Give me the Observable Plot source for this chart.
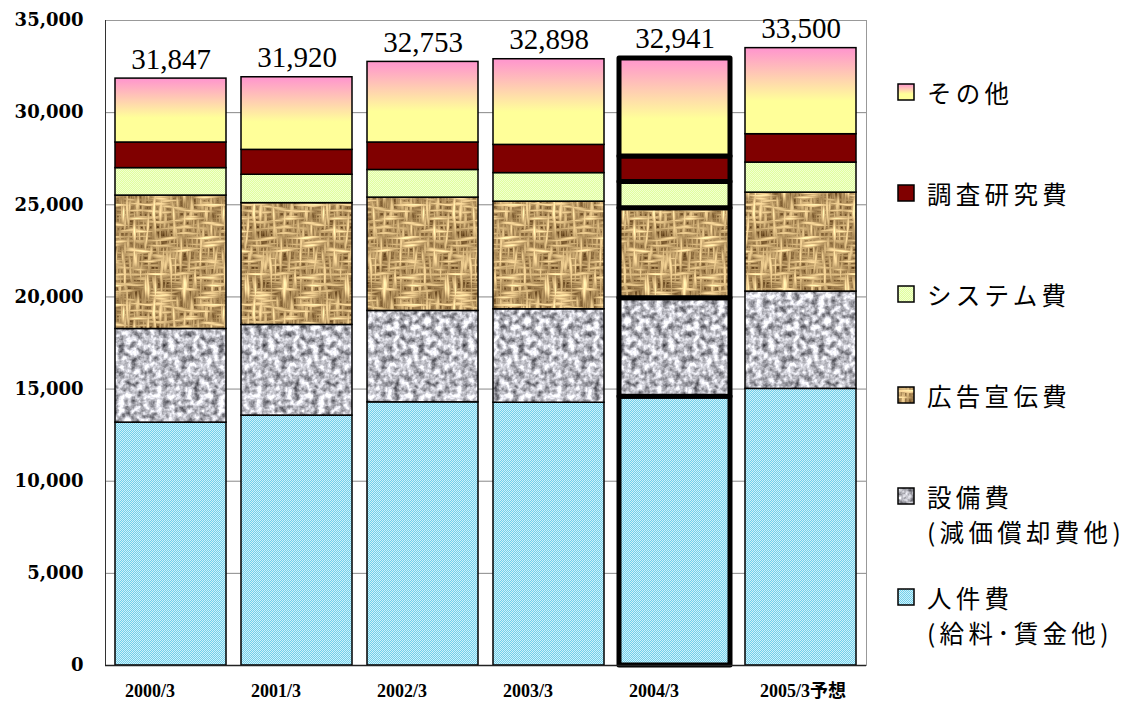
<!DOCTYPE html>
<html><head><meta charset="utf-8">
<script src="https://cdn.jsdelivr.net/npm/d3@7"></script>
<script src="https://cdn.jsdelivr.net/npm/@observablehq/plot@0.6"></script>
<style>
body{margin:0;background:#fff}
#wrap{position:relative;width:1129px;height:708px;overflow:hidden}
#chart{position:absolute;left:0;top:0}
#legend{position:absolute;left:880px;top:0;width:249px;height:708px;font-family:"Noto Sans CJK JP",sans-serif;font-size:24.5px;letter-spacing:4.3px;color:#000}
.item{position:absolute;left:17px}
.sw{position:absolute;left:0;top:8px;width:18px;height:18px}
.lbl{position:absolute;left:30px;white-space:nowrap}
.ln{height:35px;line-height:35px}
</style></head>
<body>
<svg width="0" height="0" style="position:absolute">
<defs>
  <filter id="fGray" x="0" y="0" width="1" height="1" color-interpolation-filters="sRGB">
    <feTurbulence type="fractalNoise" baseFrequency="0.16" numOctaves="3" seed="4" stitchTiles="stitch"/>
    <feColorMatrix type="matrix" values="1.3 0 0 0 0.1  1.3 0 0 0 0.1  1.3 0 0 0 0.13  0 0 0 0 1"/>
  </filter>
  <pattern id="pGray" patternUnits="userSpaceOnUse" width="100" height="100"><rect width="100" height="100" filter="url(#fGray)"/></pattern>
  <filter id="fBurlap" x="0" y="0" width="1" height="1" color-interpolation-filters="sRGB">
    <feTurbulence type="fractalNoise" baseFrequency="0.04 0.3" numOctaves="2" seed="2" stitchTiles="stitch" result="a"/>
    <feColorMatrix in="a" type="matrix" values="1 0 0 0 0  1 0 0 0 0  1 0 0 0 0  0 0 0 0 1" result="a1"/>
    <feTurbulence type="fractalNoise" baseFrequency="0.3 0.04" numOctaves="2" seed="7" stitchTiles="stitch" result="b"/>
    <feColorMatrix in="b" type="matrix" values="1 0 0 0 0  1 0 0 0 0  1 0 0 0 0  0 0 0 0 1" result="b1"/>
    <feBlend in="a1" in2="b1" mode="lighten" result="c"/>
    <feColorMatrix in="c" type="matrix" values="1.3 0 0 0 0.03  1.3 0 0 0 -0.1  1.1 0 0 0 -0.2  0 0 0 0 1"/>
  </filter>
  <pattern id="pBurlap" patternUnits="userSpaceOnUse" width="100" height="100"><rect width="100" height="100" filter="url(#fBurlap)"/></pattern>
  <pattern id="pCyan" patternUnits="userSpaceOnUse" width="2" height="2"><rect width="2" height="2" fill="#72cfea"/><rect width="1" height="1" fill="#d0f2fb"/><rect x="1" y="1" width="1" height="1" fill="#d0f2fb"/></pattern>
  <pattern id="pSys" patternUnits="userSpaceOnUse" width="2" height="2"><rect width="2" height="2" fill="#e0ff9e"/><rect width="1" height="1" fill="#f2ffd0"/><rect x="1" y="1" width="1" height="1" fill="#f2ffd0"/></pattern>
  <linearGradient id="gOther" x1="0" y1="0" x2="0" y2="1">
    <stop offset="0.03" stop-color="#ff99cc"/><stop offset="0.62" stop-color="#ffff99"/><stop offset="1" stop-color="#ffff99"/>
  </linearGradient>
</defs>
</svg>
<div id="wrap"><div id="chart"></div><div id="legend"></div></div>
<script>
const categories = ["2000/3","2001/3","2002/3","2003/3","2004/3","2005/3予想"];
const series = ["人件費","設備費","広告宣伝費","システム費","調査研究費","その他"];
const personnel   = [13180, 13560, 14280, 14260, 14590, 15010];
const equipment   = [5080, 4920, 4960, 5070, 5340, 5280];
const advertising = [7240, 6610, 6150, 5840, 4880, 5370];
const system      = [1490, 1540, 1500, 1550, 1430, 1630];
const research    = [1390, 1350, 1490, 1530, 1380, 1540];
const other       = [3467, 3940, 4373, 4648, 5321, 4670];
const totals      = [31847, 31920, 32753, 32898, 32941, 33500];
const yTicks      = [0, 5000, 10000, 15000, 20000, 25000, 30000, 35000];
const highlight   = "2004/3";
const fills = ["url(#pCyan)","url(#pGray)","url(#pBurlap)","url(#pSys)","#800000","url(#gOther)"];
const legendLines = [["その他"],["調査研究費"],["システム費"],["広告宣伝費"],["設備費","(減価償却費他)"],["人件費","(給料･賃金他)"]];
const legendSeries = ["その他","調査研究費","システム費","広告宣伝費","設備費","人件費"];

const valuesBySeries = [personnel, equipment, advertising, system, research, other];
const data = [];
categories.forEach((c, i) => series.forEach((s, j) => data.push({year: c, series: s, value: valuesBySeries[j][i]})));
const totalData = categories.map((c, i) => ({year: c, total: totals[i]}));
const xAxisStyle = {tickSize: 0, tickPadding: 19, fontFamily: "Liberation Serif, Noto Sans CJK JP", fontWeight: "bold", fontSize: 18, fill: "#000", label: null};

const chart = Plot.plot({
  width: 880, height: 708,
  marginLeft: 105, marginRight: 14, marginTop: 20, marginBottom: 43,
  style: {background: "transparent"},
  x: {domain: categories, paddingInner: 0.12, paddingOuter: 0.06, label: null},
  y: {domain: [0, 35000], label: null},
  color: {type: "ordinal", domain: series, range: fills},
  marks: [
    Plot.gridY(yTicks, {stroke: "#888", strokeOpacity: 1}),
    Plot.frame({stroke: "#999"}),
    Plot.barY(data.filter(d => d.year !== highlight), {x: "year", y: "value", fill: "series", stroke: "black", strokeWidth: 1.5}),
    Plot.barY(data.filter(d => d.year === highlight), {x: "year", y: "value", fill: "series", stroke: "black", strokeWidth: 5, strokeLinejoin: "round"}),
    Plot.frame({anchor: "left", stroke: "#333"}),
    Plot.ruleY([0], {stroke: "#222", strokeWidth: 1.5}),
    Plot.axisY(yTicks, {tickSize: 0, tickPadding: 22, tickFormat: d3.format(","), fontFamily: "DejaVu Serif", fontWeight: "bold", fontSize: 18, fill: "#000", label: null}),
    Plot.axisX(categories.slice(0, 5), {...xAxisStyle, dx: -21}),
    Plot.axisX(categories.slice(5), {...xAxisStyle, dx: 2}),
    Plot.text(totalData, {x: "year", y: "total", text: d => d3.format(",")(d.total), lineAnchor: "bottom", dy: -10, fontFamily: "Liberation Serif", fontSize: 29, fill: "#000"})
  ]
});
document.getElementById("chart").appendChild(chart);

const legend = document.getElementById("legend");
legendLines.forEach((lines, i) => {
  const item = document.createElement("div");
  item.className = "item";
  item.style.top = (75 + i * 101) + "px";
  const fill = fills[series.indexOf(legendSeries[i])];
  item.innerHTML = `<svg class="sw" width="18" height="18"><rect x="1" y="1" width="16" height="16" fill="${fill}" stroke="black" stroke-width="1.5"/></svg>` +
    `<div class="lbl">${lines.map(l => `<div class="ln">${l}</div>`).join("")}</div>`;
  legend.appendChild(item);
});
</script>
</body></html>
